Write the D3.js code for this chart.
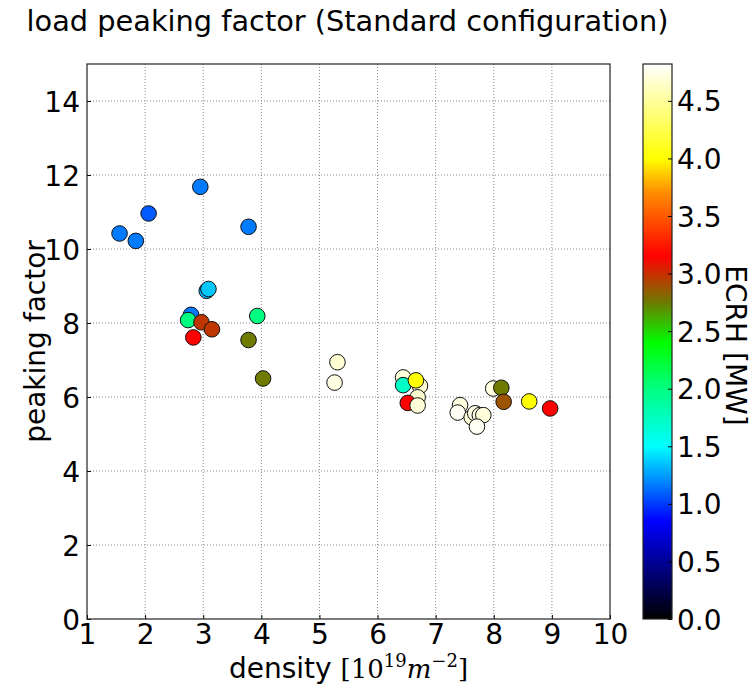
<!DOCTYPE html>
<html>
<head>
<meta charset="utf-8">
<script src="https://cdn.jsdelivr.net/npm/d3@7"></script>
<style>
  body { margin: 0; background: #fff; }
  text { font-family: "DejaVu Sans", sans-serif; fill: #000; }
  .grid line { stroke: #888; stroke-dasharray: 1,2; stroke-width: 1; }
</style>
</head>
<body>
<div id="chart"></div>
<script>
// density [1e19 m^-2], peaking factor, ECRH power [MW]
const density = [
  2.95, 2.06, 1.56, 1.84, 3.78, 3.06, 3.09, 2.79, 2.74, 2.97, 3.15, 2.83, 3.93, 3.78, 4.03,
  5.31, 5.26,
  6.44, 6.73, 6.44, 6.66, 6.69, 6.52, 6.69,
  7.42, 7.38, 7.62, 7.68, 7.76, 7.82, 7.71,
  7.99, 8.13, 8.17, 8.61, 8.97
];
const peaking = [
  11.68, 10.96, 10.42, 10.22, 10.60, 8.87, 8.92, 8.22, 8.08, 8.02, 7.83, 7.61, 8.19, 7.54, 6.50,
  6.94, 6.39,
  6.53, 6.30, 6.32, 6.45, 5.99, 5.84, 5.77,
  5.78, 5.58, 5.45, 5.56, 5.51, 5.51, 5.20,
  6.23, 6.25, 5.87, 5.88, 5.69
];
const ecrh = [
  1.16, 1.08, 1.16, 1.16, 1.16, 1.30, 1.36, 1.16, 2.0, 2.97, 2.97, 3.15, 2.0, 2.75, 2.75,
  4.68, 4.74,
  4.70, 4.68, 1.72, 4.0, 4.68, 3.15, 4.70,
  4.72, 4.78, 4.70, 4.74, 4.72, 4.70, 4.78,
  4.72, 2.75, 2.88, 4.0, 3.15
];

const xTicks = [1, 2, 3, 4, 5, 6, 7, 8, 9, 10];
const yTicks = [0, 2, 4, 6, 8, 10, 12, 14];
const cTicks = [0.0, 0.5, 1.0, 1.5, 2.0, 2.5, 3.0, 3.5, 4.0, 4.5];

// colour map stops (value -> colour)
const cmapValues = [0, 0.85, 1.5, 2.0, 2.4, 2.75, 3.15, 3.7, 4.0, 4.82];
const cmapColors = ['#000000', '#0000ff', '#00ffff', '#00ff80', '#00ff00',
                    '#6e7a00', '#ff0000', '#ff8c00', '#ffff00', '#ffffff'];

const margin = {top: 64, left: 87};
const width = 523, height = 555;
const cbar = {x: 643, width: 29};
const fontSize = '28px';

const svg = d3.select('#chart').append('svg')
    .attr('width', 752)
    .attr('height', 690);

const xScale = d3.scaleLinear().domain([1, 10]).range([0, width]);
const yScale = d3.scaleLinear().domain([0, 15]).range([height, 0]);
const cScale = d3.scaleLinear().domain(cmapValues).range(cmapColors).clamp(true);
const cbScale = d3.scaleLinear().domain([0, 4.82]).range([height, 0]);

const chart = svg.append('g')
    .attr('transform', `translate(${margin.left},${margin.top})`);

// gridlines
const grid = chart.append('g').attr('class', 'grid');
grid.selectAll('.gx')
    .data(xTicks.slice(1, -1))
    .join('line')
    .attr('x1', d => xScale(d)).attr('x2', d => xScale(d))
    .attr('y1', 0).attr('y2', height);
grid.selectAll('.gy')
    .data(yTicks.slice(1))
    .join('line')
    .attr('class', 'gy')
    .attr('y1', d => yScale(d)).attr('y2', d => yScale(d))
    .attr('x1', 0).attr('x2', width);

// axes (ticks inside, matplotlib style)
const xAxisG = chart.append('g')
    .attr('transform', `translate(0,${height})`)
    .call(d3.axisBottom(xScale).tickValues(xTicks).tickSize(-4).tickPadding(5).tickFormat(d3.format('d')));
const yAxisG = chart.append('g')
    .call(d3.axisLeft(yScale).tickValues(yTicks).tickSize(-4).tickPadding(7).tickFormat(d3.format('d')));
[xAxisG, yAxisG].forEach(g => {
  g.select('.domain').remove();
  g.selectAll('text').style('font-size', fontSize).attr('font-family', null);
  g.selectAll('line').attr('stroke', '#000');
});
yAxisG.selectAll('text').attr('dy', '0.36em');

// points
chart.selectAll('.point')
    .data(density.map((d, i) => ({x: d, y: peaking[i], c: ecrh[i]})))
    .join('circle')
    .attr('class', 'point')
    .attr('cx', d => xScale(d.x))
    .attr('cy', d => yScale(d.y))
    .attr('r', 7.8)
    .attr('fill', d => cScale(d.c))
    .attr('stroke', '#111')
    .attr('stroke-width', 1);

// frame
chart.append('rect')
    .attr('width', width).attr('height', height)
    .attr('fill', 'none').attr('stroke', '#222').attr('stroke-width', 1.2);

// title and axis labels
svg.append('text')
    .attr('x', margin.left + width / 2 - 1).attr('y', 31)
    .attr('text-anchor', 'middle')
    .style('font-size', '28.8px')
    .text('load peaking factor (Standard configuration)');

const xl = svg.append('text')
    .attr('x', margin.left + width / 2).attr('y', 678)
    .attr('text-anchor', 'middle')
    .style('font-size', fontSize);
xl.append('tspan').text('density ');
xl.append('tspan').attr('font-family', 'DejaVu Serif').style('font-size', '26px').text('[10');
xl.append('tspan').attr('font-family', 'DejaVu Serif').style('font-size', '18px').attr('dy', -11).text('19');
xl.append('tspan').attr('font-family', 'DejaVu Serif').style('font-size', '26px').attr('font-style', 'italic').attr('dy', 11).text('m');
xl.append('tspan').attr('font-family', 'DejaVu Serif').style('font-size', '18px').attr('dy', -11).text('−2');
xl.append('tspan').attr('font-family', 'DejaVu Serif').style('font-size', '26px').attr('dy', 11).text(']');

svg.append('text')
    .attr('transform', `translate(45,${margin.top + height / 2}) rotate(-90)`)
    .attr('text-anchor', 'middle')
    .style('font-size', fontSize)
    .text('peaking factor');

// colorbar
const defs = svg.append('defs');
const grad = defs.append('linearGradient')
    .attr('id', 'cmap')
    .attr('x1', 0).attr('y1', 1).attr('x2', 0).attr('y2', 0);
grad.selectAll('stop')
    .data(cmapValues)
    .join('stop')
    .attr('offset', d => d / 4.82)
    .attr('stop-color', (d, i) => cmapColors[i]);

const cb = svg.append('g')
    .attr('transform', `translate(${cbar.x},${margin.top})`);
cb.append('rect')
    .attr('width', cbar.width).attr('height', height)
    .attr('fill', 'url(#cmap)')
    .attr('stroke', '#222').attr('stroke-width', 1.2);

const cAxisG = cb.append('g')
    .attr('transform', `translate(${cbar.width},0)`)
    .call(d3.axisRight(cbScale).tickValues(cTicks).tickSize(-4).tickPadding(5).tickFormat(d3.format('.1f')));
cAxisG.select('.domain').remove();
cAxisG.selectAll('line').attr('stroke', '#000');
cAxisG.selectAll('text').style('font-size', fontSize).attr('font-family', null).attr('dy', '0.36em');

svg.append('text')
    .attr('transform', `translate(726,${margin.top + height / 2 + 4}) rotate(90)`)
    .attr('text-anchor', 'middle')
    .style('font-size', fontSize)
    .text('ECRH [MW]');
</script>
</body>
</html>
